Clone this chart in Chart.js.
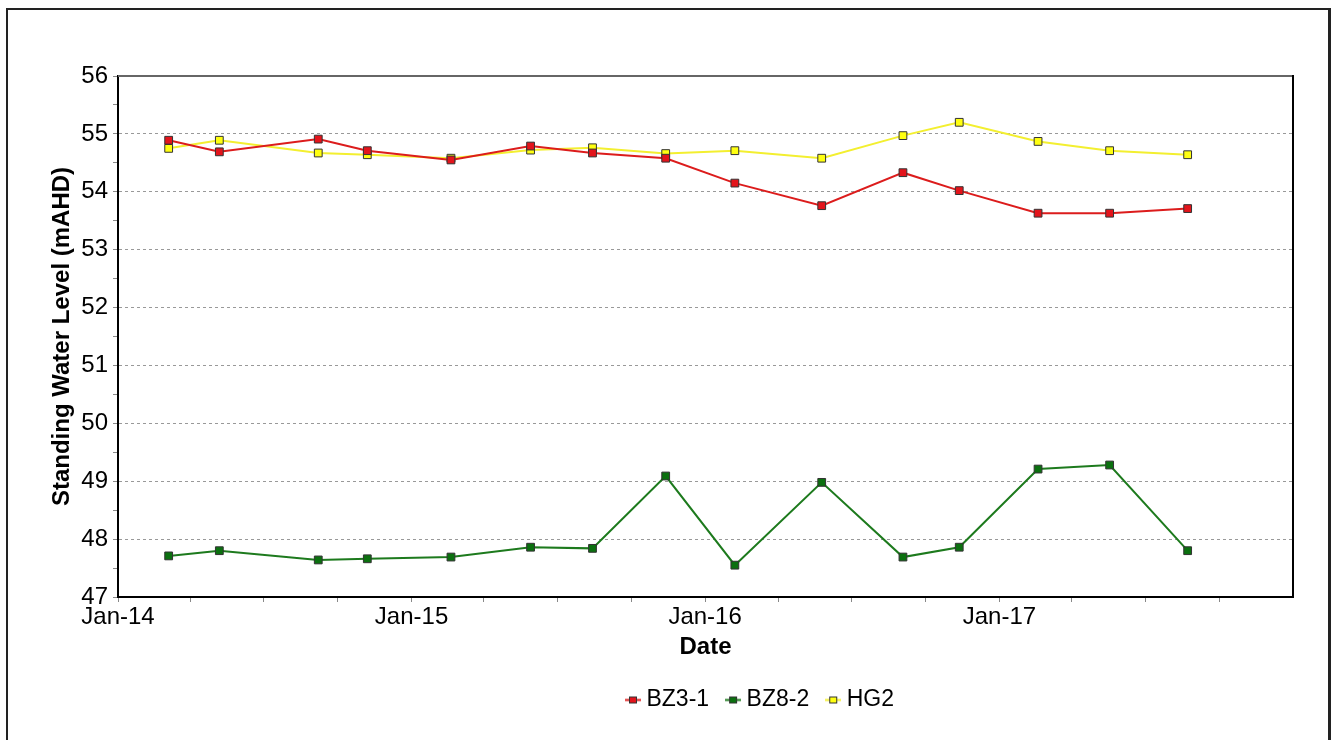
<!DOCTYPE html>
<html>
<head>
<meta charset="utf-8">
<script src="https://cdn.jsdelivr.net/npm/chart.js@4/dist/chart.umd.min.js"></script>
<style>
  html, body { margin: 0; padding: 0; background: #fff; overflow: hidden; }
  #marco { position: absolute; left: 6px; top: 8px; width: 1320px; height: 760px; border: 2px solid #222; border-right-width: 3px; }
  #caja { position: absolute; left: 0; top: 0; width: 1337px; height: 740px; }
</style>
</head>
<body>
<div id="marco"></div>
<div id="caja"><canvas id="grafico"></canvas></div>
<script>
let fechas = ['2014-03-05', '2014-05-07', '2014-09-07', '2014-11-07', '2015-02-19',
              '2015-05-29', '2015-08-14', '2015-11-13', '2016-02-07', '2016-05-25',
              '2016-09-03', '2016-11-12', '2017-02-18', '2017-05-18', '2017-08-23'];

let bz31 = [54.89, 54.69, 54.91, 54.71, 54.55, 54.79, 54.67, 54.58, 54.15, 53.76, 54.33, 54.02, 53.63, 53.63, 53.71];
let bz82 = [47.71, 47.80, 47.64, 47.66, 47.69, 47.86, 47.84, 49.09, 47.55, 48.98, 47.69, 47.86, 49.21, 49.28, 47.80];
let hg2  = [54.75, 54.89, 54.67, 54.64, 54.58, 54.72, 54.76, 54.66, 54.71, 54.58, 54.97, 55.20, 54.87, 54.71, 54.64];

let series = ['BZ3-1', 'BZ8-2', 'HG2'];

let tickFechas = ['2014-01-01', '2014-04-01', '2014-07-01', '2014-10-01',
                  '2015-01-01', '2015-04-01', '2015-07-01', '2015-10-01',
                  '2016-01-01', '2016-04-01', '2016-07-01', '2016-10-01',
                  '2017-01-01', '2017-04-01', '2017-07-01', '2017-10-01'];
let tickTextos = ['Jan-14', '', '', '', 'Jan-15', '', '', '', 'Jan-16', '', '', '', 'Jan-17', '', '', ''];

let inicio = '2014-01-01';
let fin = '2018-01-01';

let dia = (s) => (Date.parse(s) - Date.parse(inicio)) / 86400000;

let puntos = (valores) => valores.map((v, i) => ({ x: dia(fechas[i]), y: v }));

let lineas = ['#dc1c1c', '#1d7a1d', '#f3ef30'];
let rellenos = ['#e3141b', '#0b700f', '#ffff10'];

// marcador de la leyenda: linea corta con cuadrito
let marcador = (colorLinea, colorRelleno) => {
    let c = document.createElement('canvas');
    c.width = 16; c.height = 9;
    let g = c.getContext('2d');
    g.strokeStyle = colorLinea; g.lineWidth = 2;
    g.beginPath(); g.moveTo(0, 4.5); g.lineTo(16, 4.5); g.stroke();
    g.fillStyle = colorRelleno; g.fillRect(4.5, 1.5, 7, 6);
    g.strokeStyle = '#333'; g.lineWidth = 1; g.strokeRect(4.5, 1.5, 7, 6);
    return c;
};
let marcadores = lineas.map((l, i) => marcador(l, rellenos[i]));

let fuente = "'Liberation Sans', Arial, sans-serif";

let marcoPlot = {
    id: 'marcoPlot',
    afterDatasetsDraw: (chart) => {
        let a = chart.chartArea;
        let ctx = chart.ctx;
        ctx.save();
        ctx.strokeStyle = '#666'; ctx.lineWidth = 2;
        ctx.beginPath(); ctx.moveTo(a.left, a.top); ctx.lineTo(a.right, a.top); ctx.stroke();
        ctx.strokeStyle = '#000';
        ctx.beginPath(); ctx.moveTo(a.right, a.top - 1); ctx.lineTo(a.right, a.bottom); ctx.stroke();
        ctx.restore();
    }
};

let moverLeyenda = {
    id: 'moverLeyenda',
    afterLayout: (chart) => {
        let dx = 116;
        chart.legend.left += dx;
        chart.legend.right += dx;
    }
};

let datasets = [bz31, bz82, hg2].map((serie, i) => ({
    label: series[i],
    data: puntos(serie),
    borderColor: lineas[i],
    borderWidth: 2,
    backgroundColor: rellenos[i],
    pointBackgroundColor: rellenos[i],
    pointBorderColor: '#333',
    pointBorderWidth: 1,
    pointStyle: 'rect',
    pointRadius: 5.5,
    tension: 0
}));

let config = {
    type: 'line',
    data: { datasets: datasets },
    options: {
        responsive: true,
        maintainAspectRatio: false,
        animation: false,
        layout: { padding: { top: 76, right: 44, bottom: 18.5, left: 0 } },
        plugins: {
            tooltip: { enabled: false },
            legend: {
                position: 'bottom',
                labels: {
                    usePointStyle: true,
                    pointStyleWidth: 4,
                    padding: 22,
                    color: '#000',
                    font: { family: fuente, size: 23 },
                    generateLabels: (chart) => {
                        let items = Chart.defaults.plugins.legend.labels.generateLabels(chart);
                        items.forEach((it, i) => { it.pointStyle = marcadores[i]; });
                        return items;
                    }
                }
            }
        },
        scales: {
            x: {
                type: 'linear',
                min: dia(inicio),
                max: dia(fin),
                afterBuildTicks: (eje) => { eje.ticks = tickFechas.map(f => ({ value: dia(f) })); },
                afterFit: (eje) => { eje.height = 69.5; },
                ticks: {
                    autoSkip: false,
                    maxRotation: 0,
                    padding: 1,
                    color: '#000',
                    font: { family: fuente, size: 24 },
                    callback: (valor) => {
                        let k = tickFechas.findIndex(f => dia(f) === valor);
                        return k >= 0 ? tickTextos[k] : '';
                    }
                },
                grid: { drawOnChartArea: false, drawTicks: true, tickLength: 5, tickColor: '#888' },
                border: { color: '#000', width: 2 },
                title: {
                    display: true,
                    text: 'Date',
                    color: '#000',
                    font: { family: fuente, size: 24, weight: 'bold' },
                    padding: { top: 0, bottom: 5 }
                }
            },
            y: {
                min: 47,
                max: 56,
                afterFit: (eje) => { eje.width = 118; },
                ticks: {
                    stepSize: 0.5,
                    autoSkip: false,
                    padding: 5,
                    color: '#000',
                    font: { family: fuente, size: 24 },
                    callback: (valor) => Number.isInteger(valor) ? valor : ''
                },
                grid: {
                    color: (c) => (Number.isInteger(c.tick.value) && c.tick.value > 47 && c.tick.value < 56) ? '#999' : 'rgba(0,0,0,0)',
                    lineWidth: 1,
                    tickLength: 5,
                    tickColor: '#888'
                },
                border: { color: '#000', width: 2, dash: [3, 3] },
                title: {
                    display: true,
                    text: 'Standing Water Level (mAHD)',
                    color: '#000',
                    font: { family: fuente, size: 24, weight: 'bold' },
                    padding: { top: 47.6, bottom: 0 }
                }
            }
        }
    },
    plugins: [marcoPlot, moverLeyenda]
};

let grafico = new Chart(document.getElementById('grafico'), config);
</script>
</body>
</html>
